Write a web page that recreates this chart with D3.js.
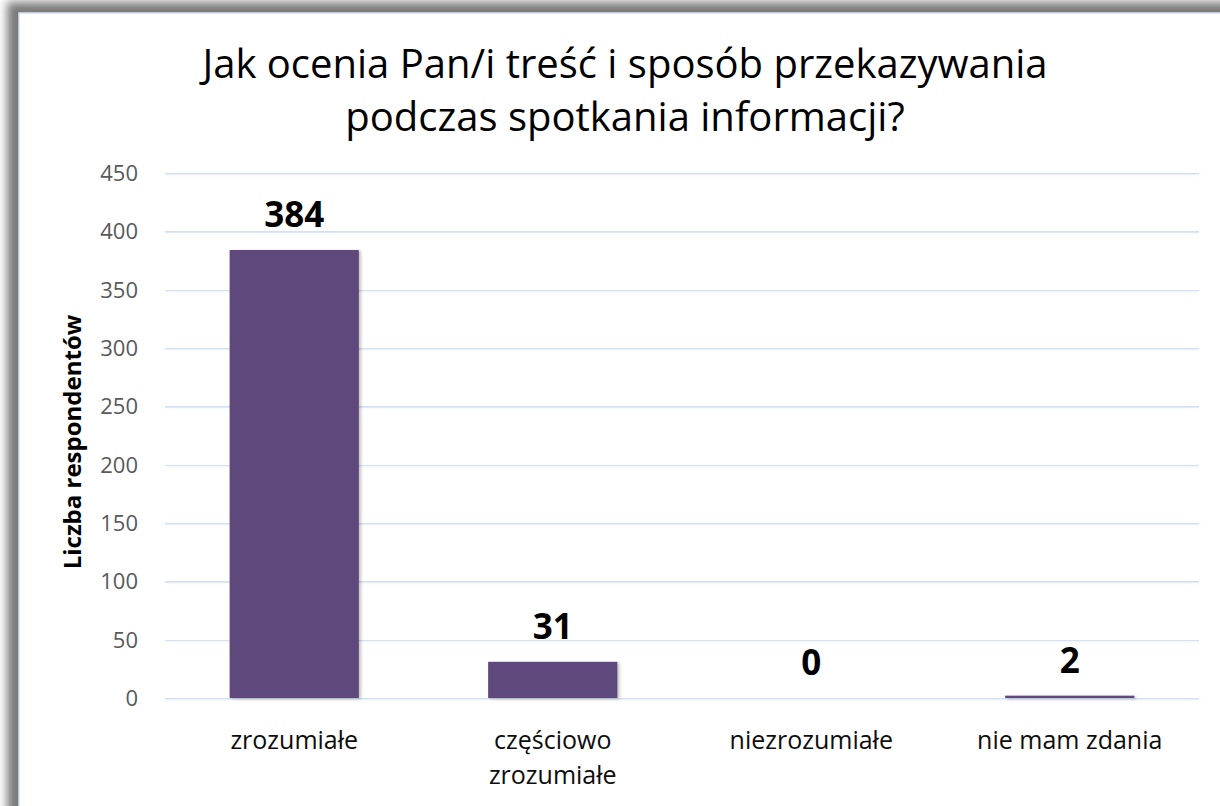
<!DOCTYPE html>
<html>
<head>
<meta charset="utf-8">
<script src="https://cdn.jsdelivr.net/npm/d3@7"></script>
<style>
  body { margin: 0; background: #fff; }
  svg { display: block; }
</style>
</head>
<body>
<div id="chart"></div>
<script>
const categories = ["zrozumiałe", "częściowo zrozumiałe", "niezrozumiałe", "nie mam zdania"];
const categoryLines = [["zrozumiałe"], ["częściowo", "zrozumiałe"], ["niezrozumiałe"], ["nie mam zdania"]];
const values = [384, 31, 0, 2];
const yTicks = [0, 50, 100, 150, 200, 250, 300, 350, 400, 450];
const titleLines = ["Jak ocenia Pan/i treść i sposób przekazywania", "podczas spotkania informacji?"];
const yAxisTitle = "Liczba respondentów";

const width = 1220;
const height = 806;
const font = "'Open Sans', 'Noto Sans', sans-serif";

const svg = d3.select("#chart").append("svg")
    .attr("width", width)
    .attr("height", height);

const defs = svg.append("defs");

defs.append("filter")
    .attr("id", "frameBlur")
    .attr("x", "-5%").attr("y", "-5%").attr("width", "110%").attr("height", "110%")
    .append("feGaussianBlur")
    .attr("stdDeviation", 5);

// horizontal lines have no height, so the shadow region is given in user space
const gridShadow = defs.append("filter")
    .attr("id", "gridShadow")
    .attr("filterUnits", "userSpaceOnUse")
    .attr("x", 0).attr("y", 0).attr("width", width).attr("height", height);
gridShadow.append("feDropShadow")
    .attr("dx", 0).attr("dy", -4)
    .attr("stdDeviation", 3.5)
    .attr("flood-color", "#000")
    .attr("flood-opacity", 0.2);

const barShadow = defs.append("filter")
    .attr("id", "barShadow")
    .attr("filterUnits", "userSpaceOnUse")
    .attr("x", 0).attr("y", 0).attr("width", width).attr("height", height);
barShadow.append("feDropShadow")
    .attr("dx", 2).attr("dy", 1)
    .attr("stdDeviation", 1.5)
    .attr("flood-color", "#000")
    .attr("flood-opacity", 0.25);

// frame round the chart
svg.append("rect")
    .attr("x", 7).attr("y", 2)
    .attr("width", 1400).attr("height", 1000)
    .attr("fill", "#7a7a7a")
    .attr("filter", "url(#frameBlur)");

svg.append("rect")
    .attr("x", 19).attr("y", 13)
    .attr("width", 1400).attr("height", 1000)
    .attr("fill", "#fff")
    .attr("stroke", "#d6e2f1")
    .attr("stroke-width", 1.5);

// title
svg.append("text")
    .attr("text-anchor", "middle")
    .attr("font-family", font)
    .attr("font-size", 40)
    .attr("fill", "#000")
    .selectAll("tspan")
    .data(titleLines)
    .enter().append("tspan")
    .attr("x", 625)
    .attr("y", (d, i) => 78 + i * 53)
    .text(d => d);

const x = d3.scaleBand()
    .domain(categories)
    .range([165, 1199])
    .paddingInner(0.5)
    .paddingOuter(0.25);

const y = d3.scaleLinear()
    .domain([0, 450])
    .range([698, 173]);

// gridlines
const grid = svg.append("g")
    .attr("transform", "translate(165,0)")
    .call(d3.axisLeft(y).tickValues(yTicks).tickSize(-1034).tickFormat(""));
grid.select(".domain").remove();
grid.selectAll(".tick line")
    .attr("stroke", "#d4e1f4")
    .attr("stroke-width", 2)
    .attr("filter", "url(#gridShadow)");

// y tick labels
const yAxis = svg.append("g")
    .attr("transform", "translate(138,0)")
    .call(d3.axisLeft(y).tickValues(yTicks).tickSize(0).tickPadding(0));
yAxis.select(".domain").remove();
yAxis.selectAll(".tick text")
    .attr("font-family", font)
    .attr("font-size", 22)
    .attr("fill", "#595959")
    .attr("dy", "0.34em");

// y axis title
svg.append("text")
    .attr("transform", "translate(81,442) rotate(-90)")
    .attr("text-anchor", "middle")
    .attr("font-family", font)
    .attr("font-size", 24)
    .attr("font-weight", "bold")
    .attr("fill", "#000")
    .text(yAxisTitle);

// bars
svg.append("g").selectAll("rect")
    .data(values)
    .enter().append("rect")
    .attr("x", (d, i) => x(categories[i]))
    .attr("y", d => y(d))
    .attr("width", x.bandwidth())
    .attr("height", d => y(0) - y(d))
    .attr("fill", "#5f4a7b")
    .attr("filter", "url(#barShadow)");

// value labels
svg.append("g").selectAll("text")
    .data(values)
    .enter().append("text")
    .attr("x", (d, i) => x(categories[i]) + x.bandwidth() / 2)
    .attr("y", d => y(d) - 23)
    .attr("text-anchor", "middle")
    .attr("font-family", font)
    .attr("font-size", 35)
    .attr("font-weight", "bold")
    .attr("fill", "#000")
    .text(d => d);

// category labels
const catLabels = svg.append("g").selectAll("text")
    .data(categoryLines)
    .enter().append("text")
    .attr("text-anchor", "middle")
    .attr("font-family", font)
    .attr("font-size", 25)
    .attr("fill", "#0d0d0d");

catLabels.selectAll("tspan")
    .data((d, i) => d.map(t => ({ t, i })))
    .enter().append("tspan")
    .attr("x", d => x(categories[d.i]) + x.bandwidth() / 2)
    .attr("y", (d, j) => 749 + j * 35)
    .text(d => d.t);
</script>
</body>
</html>
